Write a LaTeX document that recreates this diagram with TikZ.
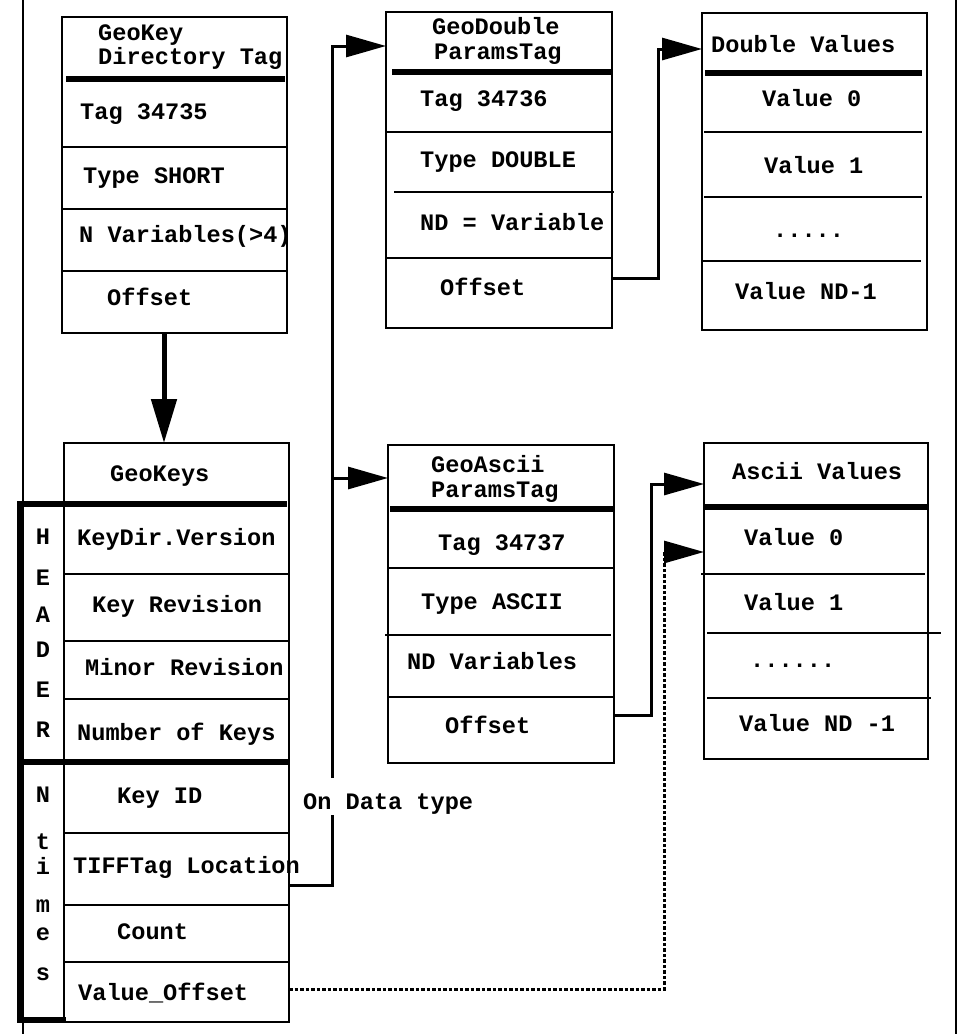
\documentclass[tikz,border=0pt]{standalone}
\usepackage{fontspec}
\setmonofont{Liberation Mono}
\usetikzlibrary{arrows.meta}
\begin{document}
\begin{tikzpicture}[x=1pt,y=-1pt,
  box/.style={draw, line width=1.8pt, rectangle, inner sep=0pt, outer sep=0pt, anchor=north west},
  txt/.style={anchor=west, inner sep=0pt, text height=15pt, text depth=0pt,
              font=\ttfamily\bfseries\fontsize{23.6pt}{28pt}\selectfont},
  vletter/.style={txt, anchor=center},
  divider/.style={line width=1.5pt},
  thickrule/.style={line width=6pt},
  conn/.style={line width=3pt},
  bighead/.style={-{Triangle[length=40pt,width=22pt]}},
  dotline/.style={line width=3pt, dash pattern=on 3.5pt off 2pt},
]
\useasboundingbox (0,0) rectangle (968,1034);

% side rules
\draw[line width=1.6pt] (23,0) -- (23,1034);
\draw[line width=2pt] (956,0) -- (956,1034);

% ---------- GeoKey Directory Tag ----------
\node[box, minimum width=225pt, minimum height=316pt] (dirtag) at (62,17) {};
\draw[thickrule] (66,79) -- (285,79);
\draw[divider] (62,147) -- (287,147);
\draw[divider] (62,209) -- (287,209);
\draw[divider] (62,271) -- (287,271);
\node[txt] (dtA) at (98,33) {GeoKey};
\node[txt] (dtB) at (98,57) {Directory Tag};
\node[txt] (dtTag) at (80,112) {Tag 34735};
\node[txt] (dtType) at (83,176) {Type SHORT};
\node[txt] (dtN) at (79,235) {N Variables(>4)};
\node[txt] (dtOff) at (107,298) {Offset};

% ---------- GeoKeys ----------
\node[box, minimum width=225pt, minimum height=579pt] (geokeys) at (64,443) {};
\draw[divider] (64,574) -- (289,574);
\draw[divider] (64,641) -- (289,641);
\draw[divider] (64,699) -- (289,699);
\draw[divider] (64,833) -- (289,833);
\draw[divider] (64,905) -- (289,905);
\draw[divider] (64,962) -- (289,962);
% header / repeat bracket
\draw[thickrule, line join=miter] (66,1020) -- (20,1020) -- (20,504) -- (287,504);
\draw[thickrule] (17,762) -- (288,762);

\node[txt] (gkT) at (110,474) {GeoKeys};
\node[txt] (gkVer) at (77,538) {KeyDir.Version};
\node[txt] (gkRev) at (92,605) {Key Revision};
\node[txt] (gkMin) at (85,668) {Minor Revision};
\node[txt] (gkNum) at (77,733) {Number of Keys};
\node[txt] (gkId) at (117,796) {Key ID};
\node[txt] (gkLoc) at (73,866) {TIFFTag Location};
\node[txt] (gkCnt) at (117,932) {Count};
\node[txt] (gkVal) at (78,993) {Value\_Offset};

\node[vletter] (h1) at (43,537) {H};
\node[vletter] (h2) at (43,578) {E};
\node[vletter] (h3) at (43,615) {A};
\node[vletter] (h4) at (43,650) {D};
\node[vletter] (h5) at (43,690) {E};
\node[vletter] (h6) at (43,730) {R};
\node[vletter] (n1) at (43,795) {N};
\node[vletter] (n2) at (43,842) {t};
\node[vletter] (n3) at (43,867) {i};
\node[vletter] (n4) at (43,905) {m};
\node[vletter] (n5) at (43,933) {e};
\node[vletter] (n6) at (43,973) {s};

% ---------- GeoDoubleParamsTag ----------
\node[box, minimum width=226pt, minimum height=316pt] (gdouble) at (386,12) {};
\draw[thickrule] (392,72) -- (612,72);
\draw[divider] (386,132) -- (612,132);
\draw[divider] (394,192) -- (614,192);
\draw[divider] (386,258) -- (612,258);
\node[txt] (gdA) at (432,27) {GeoDouble};
\node[txt] (gdB) at (434,52) {ParamsTag};
\node[txt] (gdTag) at (420,99) {Tag 34736};
\node[txt] (gdType) at (420,160) {Type DOUBLE};
\node[txt] (gdNd) at (420,223) {ND = Variable};
\node[txt] (gdOff) at (440,288) {Offset};

% ---------- Double Values ----------
\node[box, minimum width=225pt, minimum height=317pt] (dvals) at (702,13) {};
\draw[thickrule] (705,73) -- (922,73);
\draw[divider] (704,132) -- (922,132);
\draw[divider] (704,197) -- (922,197);
\draw[divider] (702,261) -- (921,261);
\node[txt] (dvT) at (711,45) {Double Values};
\node[txt] (dv0) at (762,99) {Value 0};
\node[txt] (dv1) at (764,166) {Value 1};
\node[txt] (dvDots) at (773,230) {.....};
\node[txt] (dvN) at (735,292) {Value ND-1};

% ---------- GeoAsciiParamsTag ----------
\node[box, minimum width=226pt, minimum height=318pt] (gascii) at (388,445) {};
\draw[thickrule] (390,509) -- (615,509);
\draw[divider] (388,568) -- (614,568);
\draw[divider] (385,635) -- (611,635);
\draw[divider] (388,697) -- (614,697);
\node[txt] (gaA) at (431,465) {GeoAscii};
\node[txt] (gaB) at (431,490) {ParamsTag};
\node[txt] (gaTag) at (438,543) {Tag 34737};
\node[txt] (gaType) at (421,602) {Type ASCII};
\node[txt] (gaNd) at (407,662) {ND Variables};
\node[txt] (gaOff) at (445,726) {Offset};

% ---------- Ascii Values ----------
\node[box, minimum width=224pt, minimum height=316pt] (avals) at (704,443) {};
\draw[thickrule] (704,507) -- (928,507);
\draw[divider] (701,574) -- (925,574);
\draw[divider] (707,633) -- (941,633);
\draw[divider] (707,698) -- (931,698);
\node[txt] (avT) at (732,472) {Ascii Values};
\node[txt] (av0) at (744,538) {Value 0};
\node[txt] (av1) at (744,603) {Value 1};
\node[txt] (avDots) at (750,660) {......};
\node[txt] (avN) at (739,724) {Value ND -1};

% ---------- connectors ----------
% directory tag points to the key block
\draw[line width=5pt, -{Triangle[length=44pt,width=25pt]}]
  ([xshift=-10.5pt]dirtag.south) -- ([xshift=-12.5pt]geokeys.north);

% attachment points on the box edges
\path (geokeys.north east) ++(0,442) coordinate (tiffOut);
\path (geokeys.north east) ++(0,546) coordinate (voOut);
\path (gdouble.north west) ++(0,34) coordinate (gdIn);
\path (gdouble.north east) ++(0,266) coordinate (gdOut);
\path (dvals.north west) ++(0,36) coordinate (dvIn);
\path (gascii.north west) ++(0,33) coordinate (gaIn);
\path (gascii.north east) ++(0,270) coordinate (gaOut);
\path (avals.north west) ++(0,41) coordinate (avIn);
\path (avals.north west) ++(0,109) coordinate (av0In);

% vertical runs
\coordinate (bus) at (332,0);
\coordinate (dbus) at (658,0);
\coordinate (abus) at (651,0);
\coordinate (obus) at (664,0);

% TIFFTag Location branches by data type
\node[txt] (lbl) at (303,802) {On Data type};
\path (lbl.south -| bus) ++(0,5.5) coordinate (gapLo);
\path (lbl.north -| bus) ++(0,-16.5) coordinate (gapHi);
\draw[conn] (tiffOut) -| (gapLo);
\draw[conn, bighead] (gapHi) |- (gdIn);
\draw[conn, bighead] (bus |- gaIn) -- (gaIn);

% offsets to the value arrays
\draw[conn, bighead] (gdOut) -| (dbus |- dvIn) -- (dvIn);
\draw[conn, bighead] (gaOut) -| (abus |- avIn) -- (avIn);
\draw[dotline, bighead] (voOut) -| (obus |- av0In) -- (av0In);

\end{tikzpicture}
\end{document}
